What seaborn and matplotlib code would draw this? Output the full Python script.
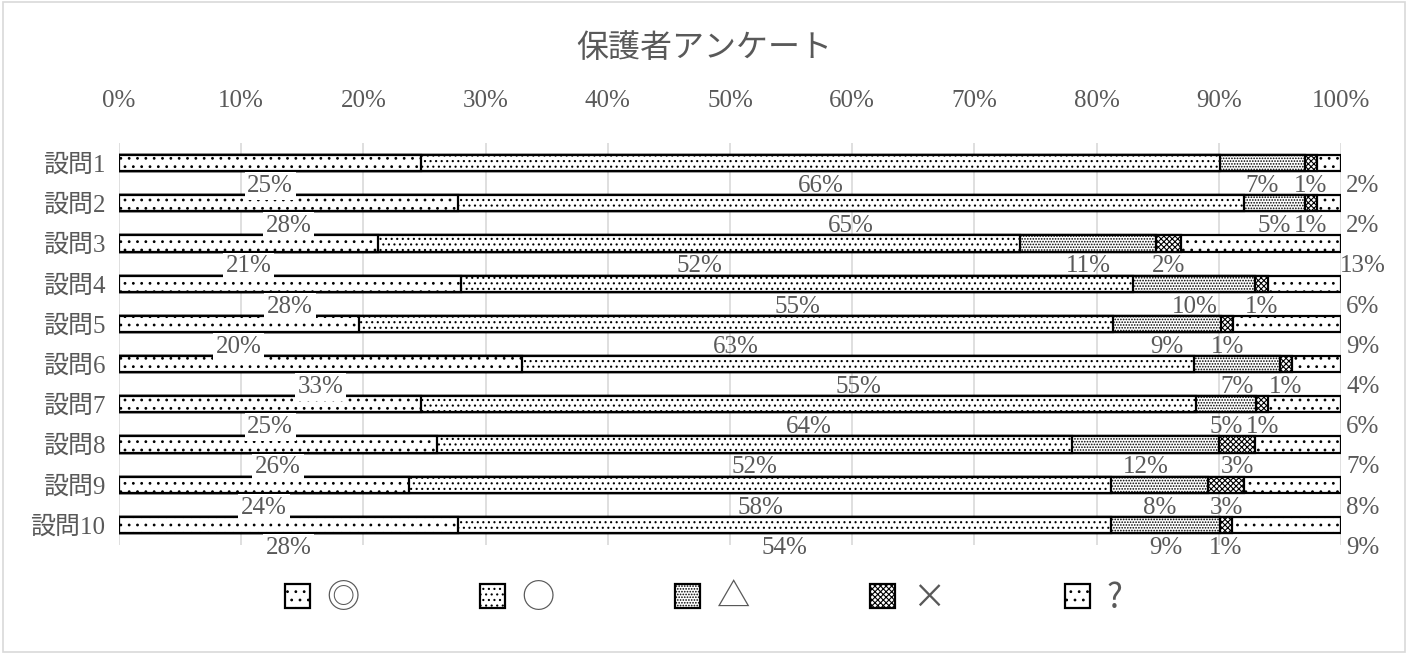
import numpy as np
import pandas as pd
import seaborn as sns
import matplotlib.pyplot as plt
from matplotlib.patches import Patch, Rectangle

sns.set_theme(style="white")
plt.rcParams['font.family'] = ['Liberation Serif', 'Noto Sans CJK JP', 'DejaVu Sans']
plt.rcParams['hatch.linewidth'] = 0.8

# データ（ラベルの%値）
questions = ["設問1", "設問2", "設問3", "設問4", "設問5",
             "設問6", "設問7", "設問8", "設問9", "設問10"]
answers = ["◎", "○", "△", "×", "?"]
v_dbl = [25, 28, 21, 28, 20, 33, 25, 26, 24, 28]
v_cir = [66, 65, 52, 55, 63, 55, 64, 52, 58, 54]
v_tri = [7, 5, 11, 10, 9, 7, 5, 12, 8, 9]
v_x = [1, 1, 2, 1, 1, 1, 1, 3, 3, 1]
v_q = [2, 2, 13, 6, 9, 4, 6, 7, 8, 9]
hatches = ["..", "...", "......", "xxxxxx", ".."]

vals = np.array([v_dbl, v_cir, v_tri, v_x, v_q], dtype=float).T
norm = vals / vals.sum(axis=1, keepdims=True) * 100
cum = norm.cumsum(axis=1)
df = pd.DataFrame(cum, columns=answers)
df["q"] = questions

grey = "#595959"
fig = plt.figure(figsize=(14.08, 6.54), dpi=100)
ax = fig.add_axes([0.0845, 0.1667, 0.8679, 0.6146])

# 累積値を後ろから重ねて描く（100%積み上げ横棒）
for k in range(4, -1, -1):
    n0 = len(ax.patches)
    sns.barplot(data=df, x=answers[k], y="q", orient="h", color="white",
                edgecolor="black", linewidth=1.6, width=0.4, ax=ax)
    for p in ax.patches[n0:]:
        p.set_hatch(hatches[k])
        p.set_facecolor("white")
        p.set_edgecolor("black")

# データラベル
for i in range(len(questions)):
    left = 0
    for k in range(5):
        xc = left + norm[i, k] / 2
        if k == 4:
            xc = 101.8
        t = ax.text(xc, i + 0.57, f"{int(vals[i, k])}%", ha="center", va="center",
                    fontsize=18, color=grey, clip_on=False, zorder=5)
        if k == 0:
            t.set_bbox(dict(facecolor="white", edgecolor="none", pad=2))
        left += norm[i, k]

ax.set_xlim(0, 100)
ax.set_ylim(9.5, -0.5)
ax.set_xticks(np.arange(0, 101, 10))
ax.set_xticklabels([f"{v}%" for v in range(0, 101, 10)])
ax.xaxis.tick_top()
ax.tick_params(axis="both", length=0, labelsize=18, labelcolor=grey)
ax.tick_params(axis="y", pad=10)
ax.tick_params(axis="x", pad=22)
ax.set_xlabel("")
ax.set_ylabel("")
ax.xaxis.grid(True, color="#d9d9d9", linewidth=1.2)
ax.set_axisbelow(True)
for s in ax.spines.values():
    s.set_visible(False)

fig.text(0.5, 0.925, "保護者アンケート", ha="center", va="center",
         fontsize=23, color=grey)

handles = [Patch(facecolor="white", edgecolor="black", hatch=h, linewidth=1.6)
           for h in hatches]
fig.legend(handles, answers, loc="center", bbox_to_anchor=(0.5, 0.085), ncol=5,
           frameon=False, prop={"family": ["Noto Sans CJK JP"], "size": 24},
           labelcolor=grey, handlelength=0.75, handleheight=0.75,
           handletextpad=0.5, columnspacing=3.6)

fig.patches.append(Rectangle((0.002, 0.003), 0.996, 0.994, transform=fig.transFigure,
                             fill=False, edgecolor="#d9d9d9", linewidth=1.2))

fig.savefig("out.png", dpi=100)
